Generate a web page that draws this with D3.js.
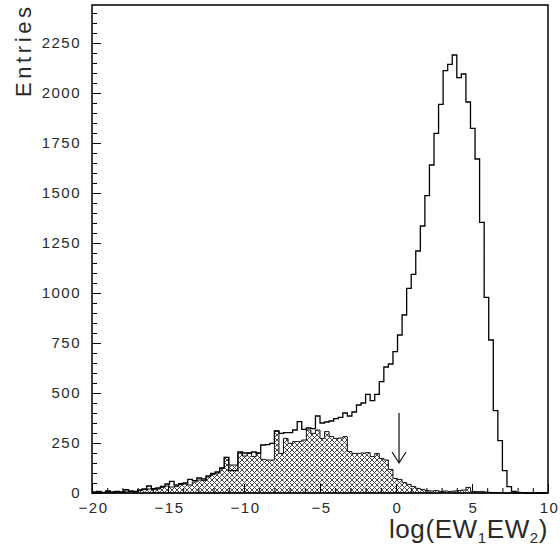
<!DOCTYPE html>
<html>
<head>
<meta charset="utf-8">
<script src="https://cdn.jsdelivr.net/npm/d3@7"></script>
<style>
  body { margin: 0; background: #fff; }
  svg text { font-family: "Liberation Sans", Arial, sans-serif; fill: #2a2a2a; }
</style>
</head>
<body>
<svg id="chart"></svg>
<script>
// histogram binning: 100 bins from -20 to 10
const xMin = -20, xMax = 10, nBins = 100;

// all entries (open histogram)
const entries = [
  5, 8, 3, 10, 5, 8, 5, 17, 10, 8,
  15, 20, 35, 22, 25, 33, 45, 58, 40, 47,
  50, 68, 62, 75, 70, 85, 98, 105, 125, 178,
  112, 112, 205, 200, 200, 205, 200, 240, 242, 248,
  310, 298, 302, 302, 315, 357, 318, 325, 322, 385,
  350, 355, 360, 372, 378, 400, 385, 405, 440, 450,
  493, 462, 493, 557, 630, 645, 707, 790, 890, 1023,
  1093, 1210, 1335, 1487, 1640, 1798, 1943, 2112, 2143, 2190,
  2077, 2095, 1955, 1823, 1670, 1353, 978, 765, 412, 262,
  112, 32, 8, 3, 2, 0, 1, 0, 0, 0
];

// selected subset (hatched histogram)
const hatched = [
  3, 5, 2, 6, 3, 5, 3, 10, 8, 5,
  12, 17, 20, 18, 20, 28, 35, 30, 32, 42,
  45, 40, 55, 65, 62, 80, 92, 100, 123, 178,
  140, 140, 200, 185, 200, 182, 200, 168, 165, 165,
  310, 198, 273, 248, 257, 257, 265, 315, 298, 315,
  273, 307, 282, 273, 275, 282, 207, 198, 198, 200,
  202, 182, 198, 173, 165, 118, 73, 68, 52, 43,
  32, 23, 18, 12, 10, 12, 8, 10, 8, 10,
  12, 15, 28, 8, 7, 8, 5, 3, 2, 1,
  0, 0, 0, 0, 0, 0, 0, 0, 0, 0
];

const xTicks = [-20, -15, -10, -5, 0, 5, 10];
const yTicks = [0, 250, 500, 750, 1000, 1250, 1500, 1750, 2000, 2250];

// cut marker
const arrowX = 0.2, arrowTop = 400, arrowTip = 150;

const W = 560, H = 550;
const margin = { top: 5, right: 12, bottom: 57, left: 92 };
const width = W - margin.left - margin.right;
const height = H - margin.top - margin.bottom;

const x = d3.scaleLinear().domain([xMin, xMax]).range([0, width]);
const y = d3.scaleLinear().domain([0, 2440]).range([height, 0]);

const svg = d3.select("#chart").attr("width", W).attr("height", H);

svg.append("defs").append("pattern")
    .attr("id", "xhatch")
    .attr("patternUnits", "userSpaceOnUse")
    .attr("width", 5).attr("height", 5)
  .selectAll("path")
  .data(["M0,0L5,5", "M5,0L0,5"])
  .join("path")
    .attr("d", d => d)
    .attr("stroke", "#333")
    .attr("stroke-width", 0.9);

const g = svg.append("g")
    .attr("transform", "translate(" + margin.left + "," + margin.top + ")");

const bw = (xMax - xMin) / nBins;
function steps(vals) {
  const pts = vals.map((v, i) => ({ x: xMin + i * bw, v: v }));
  pts.push({ x: xMax, v: vals[vals.length - 1] });
  return pts;
}

const area = d3.area()
    .curve(d3.curveStepAfter)
    .x(d => x(d.x))
    .y0(y(0))
    .y1(d => y(d.v));

const line = d3.line()
    .curve(d3.curveStepAfter)
    .x(d => x(d.x))
    .y(d => y(d.v));

g.append("path")
    .datum(steps(hatched))
    .attr("fill", "url(#xhatch)")
    .attr("stroke", "#111")
    .attr("stroke-width", 1)
    .attr("d", area);

g.append("path")
    .datum(steps(entries))
    .attr("fill", "none")
    .attr("stroke", "#000")
    .attr("stroke-width", 1.3)
    .attr("d", line);

// arrow
const ax = x(arrowX);
g.append("path")
    .attr("fill", "none")
    .attr("stroke", "#111")
    .attr("stroke-width", 1.2)
    .attr("d", "M" + ax + "," + y(arrowTop) + "V" + y(arrowTip)
      + "M" + (ax - 7) + "," + (y(arrowTip) - 11) + "L" + ax + "," + y(arrowTip)
      + "L" + (ax + 7) + "," + (y(arrowTip) - 11));

// minor ticks
g.append("g")
    .attr("transform", "translate(0," + height + ")")
    .call(d3.axisBottom(x).tickValues(d3.range(xMin, xMax + 1, 1)).tickSize(-5).tickFormat(""))
    .call(s => s.select(".domain").remove());
g.append("g")
    .call(d3.axisLeft(y).tickValues(d3.range(0, 2440, 50)).tickSize(-5).tickFormat(""))
    .call(s => s.select(".domain").remove());

// major ticks + labels
const xAxis = g.append("g")
    .attr("transform", "translate(0," + height + ")")
    .call(d3.axisBottom(x).tickValues(xTicks).tickSize(-9).tickPadding(9));
xAxis.select(".domain").remove();
xAxis.selectAll("text")
    .attr("font-size", 15).style("letter-spacing", "1.5px").attr("dx", "1px");

const yAxis = g.append("g")
    .call(d3.axisLeft(y).tickValues(yTicks).tickFormat(d3.format("d")).tickSize(-9).tickPadding(11));
yAxis.select(".domain").remove();
yAxis.selectAll("text")
    .attr("font-size", 15).style("letter-spacing", "1.5px");

g.selectAll(".tick line").attr("stroke", "#000");

// frame
g.append("rect")
    .attr("width", width).attr("height", height)
    .attr("fill", "none").attr("stroke", "#000").attr("stroke-width", 1.5);

// titles
svg.append("text")
    .attr("transform", "translate(31,97) rotate(-90)")
    .attr("font-size", 22)
    .attr("textLength", 90).attr("lengthAdjust", "spacing")
    .text("Entries");

const xt = svg.append("text")
    .attr("x", 548).attr("y", 538)
    .attr("text-anchor", "end")
    .attr("font-size", 26)
    .style("letter-spacing", "0.6px");
xt.append("tspan").text("log(EW");
xt.append("tspan").attr("font-size", 15).attr("dy", 5).text("1");
xt.append("tspan").attr("dy", -5).text("EW");
xt.append("tspan").attr("font-size", 15).attr("dy", 5).text("2");
xt.append("tspan").attr("dy", -5).text(")");
</script>
</body>
</html>
